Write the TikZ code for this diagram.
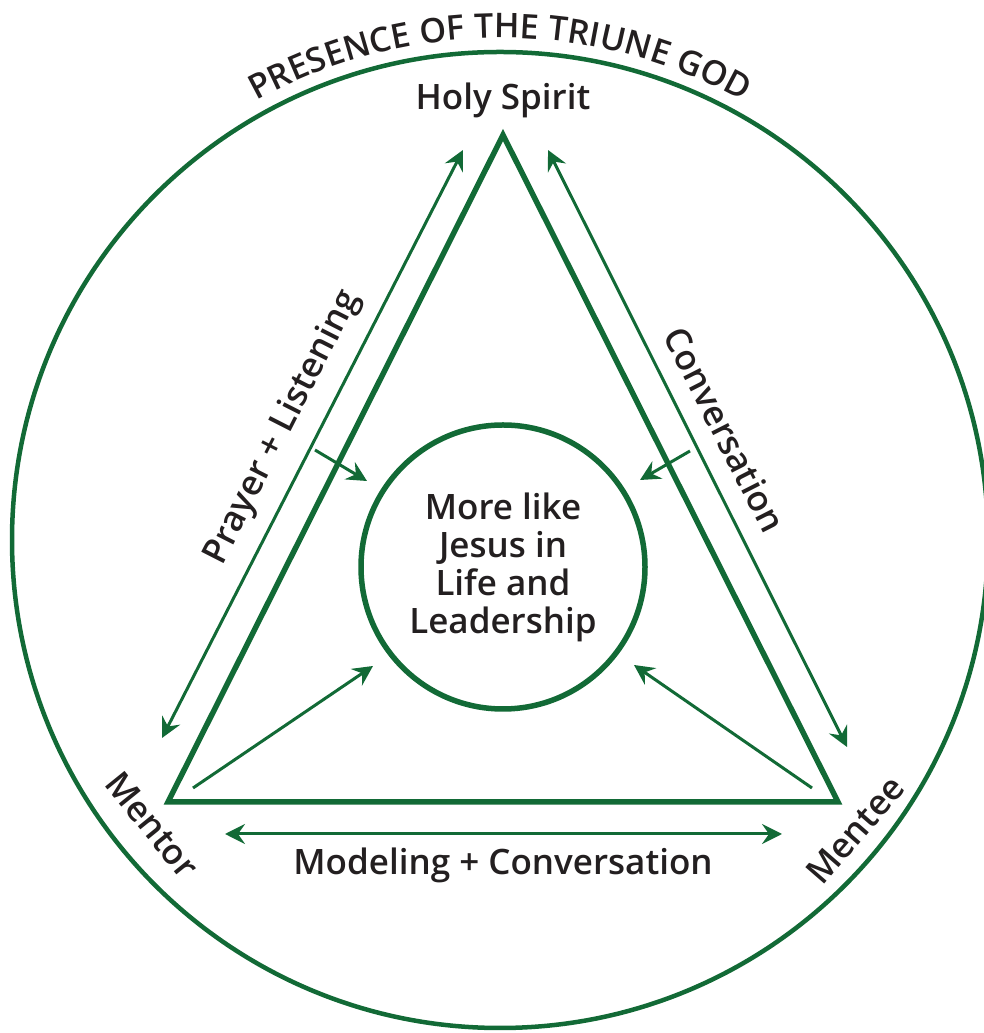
\documentclass[tikz,border=0pt]{standalone}
\usepackage{fontspec}
\IfFontExistsTF{Open Sans SemiBold}{\setmainfont{Open Sans SemiBold}}{%
  \IfFontExistsTF{Open Sans Semibold}{\setmainfont{Open Sans Semibold}}{%
    \setmainfont{Open Sans}[UprightFeatures={FakeBold=1.5}]}}
\usetikzlibrary{arrows.meta,decorations.text}
\definecolor{dgreen}{RGB}{18,106,54}
\definecolor{ink}{RGB}{35,31,32}
\tikzset{
  tip/.tip={Stealth[length=20pt,width=20pt,inset=7pt]},
  thin arrow/.style={draw=dgreen, line width=3pt, -tip},
  both arrow/.style={draw=dgreen, line width=3pt, tip-tip},
  lab/.style={text=ink, font=\fontsize{35}{38}\selectfont, inner sep=0pt}
}
\begin{document}
\begin{tikzpicture}[x=1pt,y=1pt]
\useasboundingbox (0,0) rectangle (983,1033);
% outer circle
\coordinate (oc) at (500,493);
\draw[dgreen, line width=4.5pt] (oc) circle (488);
\path[decorate, decoration={text along path, text align=center,
  text={|\fontsize{34}{34}\selectfont\color{ink}|PRESENCE OF THE TRIUNE GOD}}]
  (oc) ++(150:502) arc (150:30:502);
% triangle
\coordinate (A) at (503,898);
\coordinate (B) at (168,231);
\coordinate (C) at (838,231);
\draw[dgreen, line width=5.5pt, line join=miter] (A) -- (B) -- (C) -- cycle;
% inner circle
\node[draw=dgreen, line width=5.5pt, circle, minimum size=284pt, inner sep=0pt,
  text=ink, align=center, font=\fontsize{35}{38}\selectfont] (core) at (503,466)
  {More like\\Jesus in\\Life and\\Leadership};
% side arrows
\coordinate (l1) at (162,295); \coordinate (l2) at (463,883);
\coordinate (r1) at (548,883); \coordinate (r2) at (847,286);
\coordinate (b1) at (225,199); \coordinate (b2) at (782,199);
\draw[both arrow] (l1) -- (l2);
\draw[both arrow] (r1) -- (r2);
\draw[both arrow] (b1) -- (b2);
% arrows into center
\coordinate (s1) at (315,583); \coordinate (e1) at (367,552);
\coordinate (s2) at (690,582); \coordinate (e2) at (640,553);
\coordinate (s3) at (193,245); \coordinate (e3) at (373,367);
\coordinate (s4) at (812,245); \coordinate (e4) at (634,368);
\draw[thin arrow] (s1) -- (e1);
\draw[thin arrow] (s2) -- (e2);
\draw[thin arrow] (s3) -- (e3);
\draw[thin arrow] (s4) -- (e4);
% labels
\node[lab] (hs) at (503,933) {Holy Spirit};
\node[lab, rotate=63] (pl) at (283,605) {Prayer + Listening};
\node[lab, rotate=-63] (cv) at (725,603) {Conversation};
\node[lab] (mc) at (503,168) {Modeling + Conversation};
\node[lab, rotate=-51] (mr) at (152,208) {Mentor};
\node[lab, rotate=49] (me) at (855,203) {Mentee};
\end{tikzpicture}
\end{document}
